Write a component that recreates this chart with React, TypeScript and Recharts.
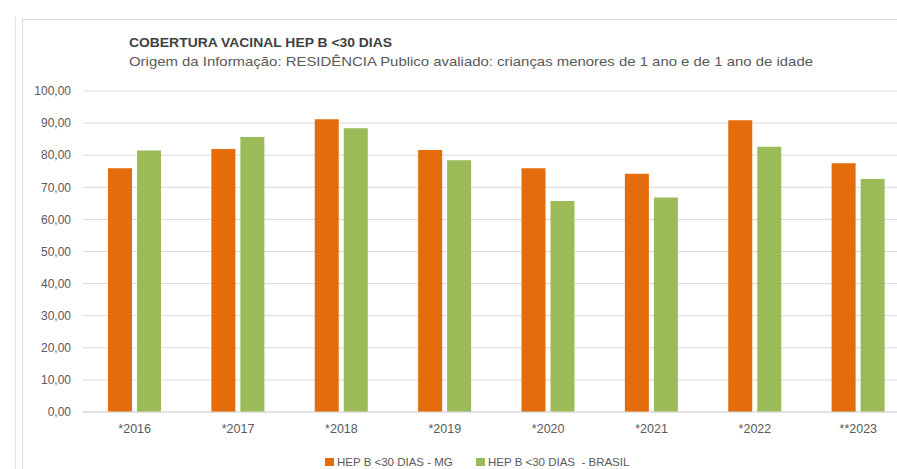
import type { FC } from 'react';
import { Bar, BarChart, CartesianGrid, XAxis, YAxis } from 'recharts';

const years = ['*2016', '*2017', '*2018', '*2019', '*2020', '*2021', '*2022', '**2023'];
const mgValues = [75.9, 81.9, 91.2, 81.6, 75.9, 74.2, 90.9, 77.5];
const brasilValues = [81.5, 85.7, 88.4, 78.4, 65.7, 66.8, 82.6, 72.6];
const yTicks = [0, 10, 20, 30, 40, 50, 60, 70, 80, 90, 100];

const MG_NAME = 'HEP B <30 DIAS - MG';
const BR_NAME = 'HEP B <30 DIAS  - BRASIL';
const ORANGE = '#E46C0A';
const GREEN = '#9BBB59';
const FONT = "'Liberation Sans', Arial, sans-serif";

const data = years.map((year, i) => ({ year, mg: mgValues[i], brasil: brasilValues[i] }));

const fmt = (v: number) => v.toFixed(2).replace('.', ',');

const App: FC = () => {
  return (
    <div style={{ position: 'absolute', left: 0, top: 0, width: 897, height: 469, overflow: 'hidden', background: '#fff', fontFamily: FONT }}>
      {/* frame lines */}
      <div style={{ position: 'absolute', left: 15, top: 17, width: 1, height: 460, background: '#e3e3e3' }} />
      <div style={{ position: 'absolute', left: 22, top: 19, width: 900, height: 460, borderLeft: '1px solid #d9d9d9', borderTop: '1px solid #d9d9d9' }} />

      <svg width={897} height={80} style={{ position: 'absolute', left: 0, top: 0 }}>
        <text x={129} y={47} fontSize={13.5} fontWeight='bold' fill='#404040' textLength={263} lengthAdjust='spacingAndGlyphs'>
          COBERTURA VACINAL HEP B &lt;30 DIAS
        </text>
        <text x={129} y={66} fontSize={13.5} fill='#595959' textLength={684} lengthAdjust='spacingAndGlyphs'>
          Origem da Informação: RESIDÊNCIA Publico avaliado: crianças menores de 1 ano e de 1 ano de idade
        </text>
      </svg>

      <div style={{ position: 'absolute', left: 0, top: 0 }}>
        <BarChart width={910} height={469} data={data} margin={{ top: 91, right: 0, bottom: 27, left: 0 }} barSize={24} barGap={5}>
          <CartesianGrid horizontal vertical={false} stroke='#d9d9d9' />
          <XAxis
            dataKey='year'
            height={30}
            tickLine={false}
            axisLine={{ stroke: '#d9d9d9' }}
            tickMargin={6}
            tick={{ fill: '#595959', fontSize: 12.5, fontFamily: FONT }}
          />
          <YAxis
            width={83}
            domain={[0, 100]}
            ticks={yTicks}
            tickFormatter={fmt}
            axisLine={false}
            tickLine={false}
            tickMargin={6}
            tick={{ fill: '#595959', fontSize: 12, fontFamily: FONT }}
          />
          <Bar dataKey='mg' name={MG_NAME} fill={ORANGE} isAnimationActive={false} />
          <Bar dataKey='brasil' name={BR_NAME} fill={GREEN} isAnimationActive={false} />
        </BarChart>
      </div>

      <div style={{ position: 'absolute', left: 325, top: 454, height: 16, display: 'flex', alignItems: 'center', fontSize: 11.5, color: '#595959', whiteSpace: 'pre' }}>
        <span style={{ width: 9, height: 8, background: ORANGE, marginRight: 3 }} />
        <span>{MG_NAME}</span>
      </div>
      <div style={{ position: 'absolute', left: 476, top: 454, height: 16, display: 'flex', alignItems: 'center', fontSize: 11.5, color: '#595959', whiteSpace: 'pre' }}>
        <span style={{ width: 9, height: 8, background: GREEN, marginRight: 3 }} />
        <span>{BR_NAME}</span>
      </div>
    </div>
  );
};

export default App;
